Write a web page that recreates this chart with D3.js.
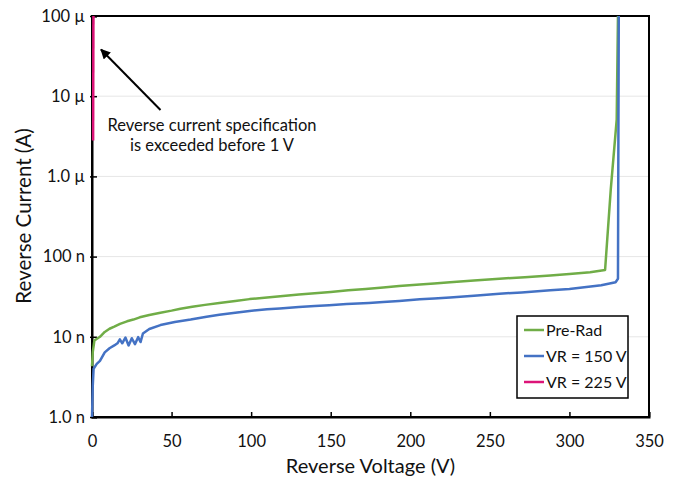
<!DOCTYPE html>
<html lang="en">
  <head>
    <meta charset="UTF-8" />
    <title>Reverse Current vs Reverse Voltage</title>
    <script src="https://d3js.org/d3.v7.min.js"></script>
    <style>
      body { margin: 0; background: #fff; }
      text { font-family: Lato, "Open Sans", sans-serif; fill: #111; }
      .axis path, .axis line { stroke: #000; }
    </style>
  </head>
  <body>
    <div id="chart"></div>
    <script>
      // values: [reverse voltage (V), reverse current (nA)]
      const preRad = [
        [0, 4.3], [0.5, 6.5], [1.5, 9], [5, 10], [8, 11.5], [11, 12.6], [14, 13.4],
        [17.6, 14.5], [22, 15.6], [26, 16.4], [30, 17.5], [36, 18.7], [43, 20],
        [50, 21.2], [55.6, 22.4], [63, 23.7], [71, 25], [80, 26.4], [90, 28],
        [99, 29.5], [110, 30.8], [120, 32.3], [130, 33.6], [140, 35], [150, 36.3],
        [161, 38], [172, 39.4], [183, 41.2], [193, 43], [206, 45], [215, 46.3],
        [225, 48], [240, 50.4], [256, 53], [272, 55.4], [288, 58], [300, 60.5],
        [313, 64], [322.4, 68], [326, 700], [329.7, 5100], [330.5, 100000]
      ];
      const vr150 = [
        [0, 1.0], [0.5, 2.5], [1, 4], [3, 4.6], [5, 5], [8, 6.4], [11, 7.2],
        [14, 7.8], [16, 8.3], [17.5, 9.3], [19, 8.3], [21, 9.8], [23, 7.8],
        [25, 9.6], [27, 8.1], [29, 9.9], [30.5, 8.6], [32, 11], [36, 12.5],
        [43, 14], [52, 15.3], [62, 16.4], [72, 17.8], [80, 18.8], [90, 20],
        [99, 21], [110, 22], [118, 22.6], [130, 23.6], [140, 24.2], [149, 24.8],
        [160, 25.6], [174, 26.4], [183, 27.1], [193, 28], [206, 29.3], [215, 30],
        [225, 31], [240, 32.6], [256, 34.5], [270, 35.8], [288, 38], [300, 39.5],
        [320, 44], [329, 48], [330.5, 53], [331, 100000]
      ];
      const vr225 = [[0.7, 2800], [0.9, 100000]];

      const seriesNames = ['Pre-Rad', 'VR = 150 V', 'VR = 225 V'];
      const seriesColors = ['#70ad47', '#4472c4', '#dc1478'];
      const xTicks = [0, 50, 100, 150, 200, 250, 300, 350];
      const yTicks = [1e-9, 1e-8, 1e-7, 1e-6, 1e-5, 1e-4];
      const yTickLabels = ['1.0 n', '10 n', '100 n', '1.0 µ', '10 µ', '100 µ'];

      const width = 680;
      const height = 481;
      const margin = { top: 16, right: 31, bottom: 64, left: 92 };

      const svg = d3
        .select('#chart')
        .append('svg')
        .attr('width', width)
        .attr('height', height);

      const x = d3
        .scaleLinear()
        .domain([0, 350])
        .range([margin.left, width - margin.right]);

      const y = d3
        .scaleLog()
        .domain([1e-9, 1e-4])
        .range([height - margin.bottom, margin.top]);

      // gridlines
      svg
        .append('g')
        .selectAll('line')
        .data(yTicks.slice(1, -1))
        .enter()
        .append('line')
        .attr('x1', margin.left)
        .attr('x2', width - margin.right)
        .attr('y1', (d) => y(d))
        .attr('y2', (d) => y(d))
        .attr('stroke', '#e6e6e6')
        .attr('stroke-width', 1);

      const defs = svg.append('defs');
      defs
        .append('clipPath')
        .attr('id', 'plot')
        .append('rect')
        .attr('x', margin.left - 2)
        .attr('y', margin.top)
        .attr('width', width - margin.left - margin.right + 2)
        .attr('height', height - margin.top - margin.bottom);

      // frame
      svg
        .append('rect')
        .attr('x', margin.left)
        .attr('y', margin.top)
        .attr('width', width - margin.left - margin.right)
        .attr('height', height - margin.top - margin.bottom)
        .attr('fill', 'none')
        .attr('stroke', '#000')
        .attr('stroke-width', 2);

      const xAxis = svg
        .append('g')
        .attr('class', 'axis')
        .attr('transform', `translate(0,${height - margin.bottom})`)
        .call(
          d3.axisBottom(x).tickValues(xTicks).tickSize(-5).tickPadding(18)
        );
      xAxis.select('.domain').attr('stroke-width', 2);
      xAxis.selectAll('line').attr('stroke-width', 1.5);
      xAxis.selectAll('text').attr('font-size', 16.5);

      const yAxis = svg
        .append('g')
        .attr('class', 'axis')
        .attr('transform', `translate(${margin.left},0)`)
        .call(
          d3
            .axisLeft(y)
            .tickValues(yTicks)
            .tickFormat((d, i) => yTickLabels[i])
            .tickSize(-5)
            .tickPadding(7)
        );
      yAxis.select('.domain').attr('stroke-width', 2);
      yAxis.selectAll('line').attr('x1', -2).attr('stroke-width', 1.5);
      yAxis.selectAll('text').attr('font-size', 16.5);

      // data lines drawn over the axis, as in the reference
      const line = d3
        .line()
        .x((d) => x(d[0]))
        .y((d) => y(d[1] * 1e-9));

      const series = [preRad, vr150, vr225];
      svg
        .append('g')
        .attr('clip-path', 'url(#plot)')
        .selectAll('path')
        .data(series)
        .enter()
        .append('path')
        .attr('d', (d) => line(d))
        .attr('fill', 'none')
        .attr('stroke', (d, i) => seriesColors[i])
        .attr('stroke-width', 2.5)
        .attr('stroke-linejoin', 'round');

      svg
        .append('text')
        .attr('x', (margin.left + width - margin.right) / 2)
        .attr('y', 466)
        .attr('dy', '0.35em')
        .attr('text-anchor', 'middle')
        .attr('font-size', 20)
        .text('Reverse Voltage (V)');

      svg
        .append('text')
        .attr('transform', 'translate(24,216) rotate(-90)')
        .attr('dy', '0.35em')
        .attr('text-anchor', 'middle')
        .attr('font-size', 20.5)
        .text('Reverse Current (A)');

      // annotation
      defs
        .append('marker')
        .attr('id', 'arrow')
        .attr('viewBox', '0 0 10 10')
        .attr('refX', 9)
        .attr('refY', 5)
        .attr('markerWidth', 5)
        .attr('markerHeight', 5)
        .attr('orient', 'auto')
        .append('path')
        .attr('d', 'M0,0L10,5L0,10z')
        .attr('fill', '#000');

      svg
        .append('line')
        .attr('x1', 160.5)
        .attr('y1', 110)
        .attr('x2', 101)
        .attr('y2', 49.5)
        .attr('stroke', '#000')
        .attr('stroke-width', 2)
        .attr('marker-end', 'url(#arrow)');

      const note = svg
        .append('text')
        .attr('text-anchor', 'middle')
        .attr('font-size', 16.5);
      note
        .append('tspan')
        .attr('x', 212)
        .attr('y', 125)
        .attr('dy', '0.35em')
        .text('Reverse current specification');
      note
        .append('tspan')
        .attr('x', 212)
        .attr('y', 145)
        .attr('dy', '0.35em')
        .text('is exceeded before 1 V');

      // legend
      const legend = svg.append('g').attr('transform', 'translate(517,316)');
      legend
        .append('rect')
        .attr('width', 111)
        .attr('height', 82)
        .attr('fill', '#fff')
        .attr('stroke', '#000')
        .attr('stroke-width', 1.5);
      const item = legend
        .selectAll('g')
        .data(seriesNames)
        .enter()
        .append('g')
        .attr('transform', (d, i) => `translate(0,${14 + i * 26})`);
      item
        .append('line')
        .attr('x1', 7)
        .attr('x2', 27)
        .attr('stroke', (d, i) => seriesColors[i])
        .attr('stroke-width', 2.5);
      item
        .append('text')
        .attr('x', 29)
        .attr('dy', '0.35em')
        .attr('font-size', 16)
        .text((d) => d);
    </script>
  </body>
</html>
